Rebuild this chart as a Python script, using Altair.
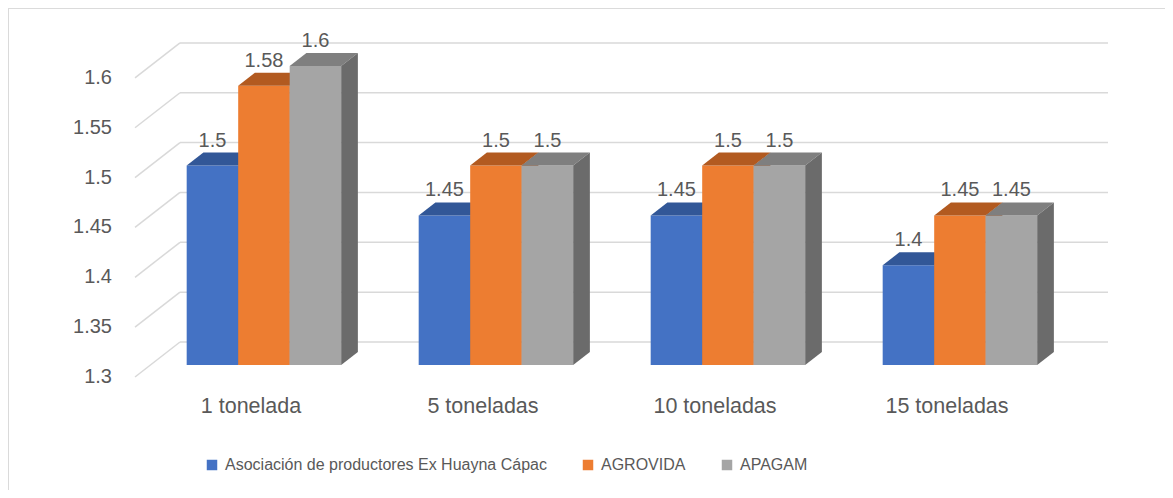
import altair as alt
import pandas as pd

# ---------------- data ----------------
categories = ["1 tonelada", "5 toneladas", "10 toneladas", "15 toneladas"]
series_names = ["Asociación de productores Ex Huayna Cápac", "AGROVIDA", "APAGAM"]
ex_huayna = [1.5, 1.45, 1.45, 1.4]
agrovida = [1.58, 1.5, 1.5, 1.45]
apagam = [1.6, 1.5, 1.5, 1.45]
y_ticks = [1.3, 1.35, 1.4, 1.45, 1.5, 1.55, 1.6]

series_values = [ex_huayna, agrovida, apagam]
front_colors = ["#4472C4", "#ED7D31", "#A5A5A5"]
top_colors = ["#325797", "#B25A20", "#7F7F7F"]
side_colors = ["#2C4F8A", "#A85520", "#6B6B6B"]

# ---------------- geometry (oblique 3D projection) ----------------
PX_CAT = 232.0      # pixels per category
PX_UNIT = 997.0     # pixels per value unit
ORIGIN_X = 251.0    # page x of category 0 centre (front plane)
ORIGIN_Y = 377.0    # page y of baseline (front plane)
BASE = 1.3
DX = 45.0 / PX_CAT  # full depth shift, category units
DY = 35.0 / PX_UNIT # full depth shift, value units
DF, DB = 0.343, 0.714   # bar front / back depth
BW = 51.5 / PX_CAT      # bar width
BAR_SHIFT = -2.5 / PX_CAT
W, H = 1157, 482

x_min = (8 - ORIGIN_X) / PX_CAT
x_max = (8 + W - ORIGIN_X) / PX_CAT
y_max = BASE + (ORIGIN_Y - 8) / PX_UNIT
y_min = BASE - (8 + H - ORIGIN_Y) / PX_UNIT

xs = alt.Scale(domain=[x_min, x_max], nice=False, zero=False)
ys = alt.Scale(domain=[y_min, y_max], nice=False, zero=False)
FONT = "Liberation Sans"
TXT = "#595959"
GRID = "#D9D9D9"


def fmt(v):
    return f"{v:g}"


# border (top + left)
border = pd.DataFrame([
    {"x": x_min, "x2": x_max, "y": y_max, "y2": y_max},
    {"x": x_min, "x2": x_min, "y": y_max, "y2": y_min},
])
border_layer = alt.Chart(border).mark_rule(color=GRID, strokeWidth=1.2).encode(
    x=alt.X("x:Q", scale=xs, axis=None), x2="x2", y=alt.Y("y:Q", scale=ys, axis=None), y2="y2")

# gridlines on back wall and side wall
grid_rows = []
for t in y_ticks:
    grid_rows.append({"x": -0.5 + DX, "x2": 3.5 + DX, "y": t + DY, "y2": t + DY})
    grid_rows.append({"x": -0.5, "x2": -0.5 + DX, "y": t, "y2": t + DY})
grid_layer = alt.Chart(pd.DataFrame(grid_rows)).mark_rule(color=GRID, strokeWidth=1.5).encode(
    x=alt.X("x:Q", scale=xs, axis=None), x2="x2", y=alt.Y("y:Q", scale=ys, axis=None), y2="y2")

# y tick labels
ytick_layer = alt.Chart(pd.DataFrame({"x": [-0.5] * len(y_ticks), "y": y_ticks,
                                      "t": [fmt(t) for t in y_ticks]})).mark_text(
    align="right", baseline="middle", dx=-23, font=FONT, fontSize=20, color=TXT).encode(
    x=alt.X("x:Q", scale=xs, axis=None), y=alt.Y("y:Q", scale=ys, axis=None), text="t:N")

# category labels
cat_layer = alt.Chart(pd.DataFrame({"x": list(range(len(categories))), "y": [BASE] * len(categories),
                                    "t": categories})).mark_text(
    align="center", baseline="middle", dy=30, font=FONT, fontSize=21.5, color=TXT).encode(
    x=alt.X("x:Q", scale=xs, axis=None), y=alt.Y("y:Q", scale=ys, axis=None), text="t:N")

bar_layers = []
label_rows = []
ddx = (DB - DF) * DX
for j, (name, vals) in enumerate(zip(series_names, series_values)):
    fronts, tops, sides = [], [], []
    for i, v in enumerate(vals):
        x0 = i - 1.5 * BW + j * BW + DF * DX + BAR_SHIFT
        x1 = x0 + BW
        yf_b = BASE + DF * DY
        yf_t = v + DF * DY
        yb_b = BASE + DB * DY
        yb_t = v + DB * DY
        fronts.append({"x": x0, "x2": x1, "y": yf_b, "y2": yf_t, "s": name})
        bid = f"{j}-{i}"
        tops += [
            {"x": x0, "y": yf_t, "y2": yf_t, "b": bid},
            {"x": x0 + ddx, "y": yf_t, "y2": yb_t, "b": bid},
            {"x": x1, "y": yf_t, "y2": yb_t, "b": bid},
            {"x": x1 + ddx, "y": yb_t, "y2": yb_t, "b": bid},
        ]
        sides += [
            {"x": x1, "y": yf_b, "y2": yf_t, "b": bid},
            {"x": x1 + ddx, "y": yb_b, "y2": yb_t, "b": bid},
        ]
        label_rows.append({"x": (x0 + x1) / 2, "y": yf_t, "t": fmt(v)})

    front = alt.Chart(pd.DataFrame(fronts)).mark_rect().encode(
        x=alt.X("x:Q", scale=xs, axis=None), x2="x2",
        y=alt.Y("y:Q", scale=ys, axis=None), y2="y2",
        color=alt.Color("s:N", scale=alt.Scale(domain=series_names, range=front_colors),
                        legend=alt.Legend(title=None, orient="none", direction="horizontal",
                                          legendX=196, legendY=449, symbolType="square",
                                          symbolSize=110, symbolStrokeWidth=0,
                                          labelFont=FONT, labelFontSize=16, labelColor=TXT,
                                          labelLimit=1000, columnPadding=33, labelOffset=5)))
    top = alt.Chart(pd.DataFrame(tops)).mark_area(color=top_colors[j]).encode(
        x=alt.X("x:Q", scale=xs, axis=None), y=alt.Y("y:Q", scale=ys, axis=None), y2="y2",
        detail="b:N")
    side = alt.Chart(pd.DataFrame(sides)).mark_area(color=side_colors[j]).encode(
        x=alt.X("x:Q", scale=xs, axis=None), y=alt.Y("y:Q", scale=ys, axis=None), y2="y2",
        detail="b:N")
    bar_layers += [front, top, side]

value_layer = alt.Chart(pd.DataFrame(label_rows)).mark_text(
    align="center", baseline="middle", dy=-25, font=FONT, fontSize=20, color=TXT).encode(
    x=alt.X("x:Q", scale=xs, axis=None), y=alt.Y("y:Q", scale=ys, axis=None), text="t:N")

chart = alt.layer(border_layer, grid_layer, ytick_layer, cat_layer, *bar_layers, value_layer).properties(
    width=W, height=H, padding=0, autosize=alt.AutoSizeParams(type="none")
).configure_view(stroke=None).configure(background="white")

chart.save("out.html", embed_options={"renderer": "svg", "actions": False})
